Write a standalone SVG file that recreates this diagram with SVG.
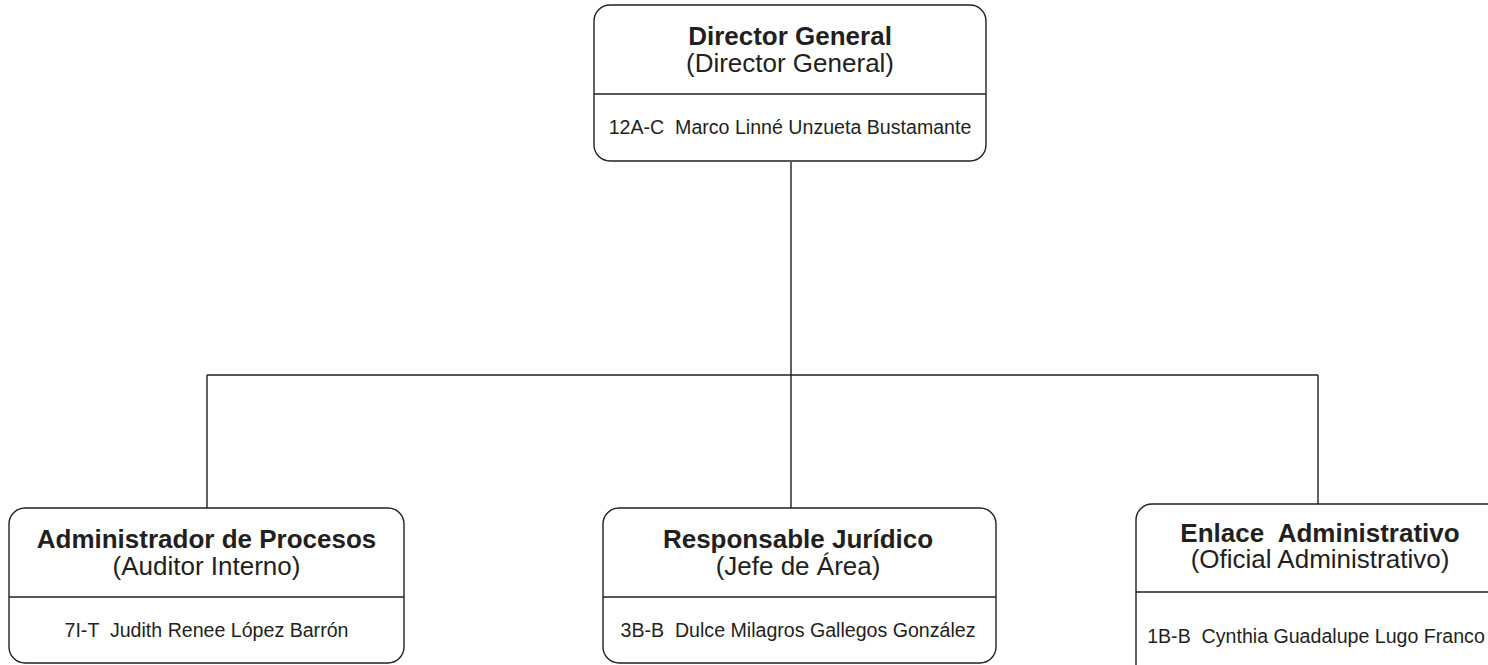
<svg xmlns="http://www.w3.org/2000/svg" width="1488" height="665" viewBox="0 0 1488 665">
<style>
.box{fill:#ffffff;stroke:#231f20;stroke-width:1.4}
.div{stroke:#231f20;stroke-width:1.4}
.con{stroke:#231f20;stroke-width:1.4;fill:none}
text{font-family:"Liberation Sans",Arial,sans-serif;fill:#231f20;text-anchor:middle}
.t{font-weight:bold;font-size:26px}
.s{font-size:26px}
.n{font-size:19.6px;white-space:pre}
</style>
<rect width="1488" height="665" fill="#ffffff"/>
<g id="connectors">
<path class="con" d="M791,162 V375 M207,375 H1318 M207,375 V508 M791,375 V508 M1318,375 V504"/>
</g>
<g id="node-director">
<rect class="box" x="594" y="5" width="392" height="156" rx="16"/>
<line class="div" x1="594" y1="94" x2="986" y2="94"/>
<text class="t" x="790" y="45">Director General</text>
<text class="s" x="790" y="72">(Director General)</text>
<text class="n" x="790" y="134" xml:space="preserve">12A-C  Marco Linné Unzueta Bustamante</text>
</g>
<g id="node-administrador">
<rect class="box" x="9" y="508" width="395" height="155" rx="16"/>
<line class="div" x1="9" y1="597" x2="404" y2="597"/>
<text class="t" x="206.5" y="548">Administrador de Procesos</text>
<text class="s" x="206.5" y="575">(Auditor Interno)</text>
<text class="n" x="206.5" y="637" xml:space="preserve">7I-T  Judith Renee López Barrón</text>
</g>
<g id="node-juridico">
<rect class="box" x="603" y="508" width="393" height="155" rx="16"/>
<line class="div" x1="603" y1="597" x2="996" y2="597"/>
<text class="t" x="798" y="548">Responsable Jurídico</text>
<text class="s" x="798" y="575">(Jefe de Área)</text>
<text class="n" x="798" y="637" xml:space="preserve">3B-B  Dulce Milagros Gallegos González</text>
</g>
<g id="node-enlace">
<rect class="box" x="1136" y="504" width="380" height="180" rx="16"/>
<line class="div" x1="1136" y1="592" x2="1516" y2="592"/>
<text class="t" x="1320" y="542" xml:space="preserve">Enlace  Administrativo</text>
<text class="s" x="1320" y="568">(Oficial Administrativo)</text>
<text class="n" x="1316" y="643" xml:space="preserve">1B-B  Cynthia Guadalupe Lugo Franco</text>
</g>
</svg>
